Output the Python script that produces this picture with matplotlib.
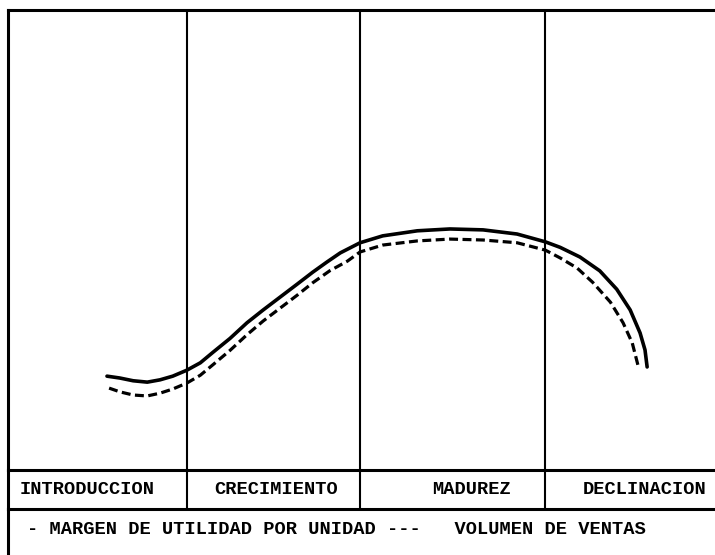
import matplotlib
matplotlib.use("Agg")
import matplotlib.pyplot as plt

# Etapas del ciclo de vida del producto
stage_names = ["INTRODUCCION", "CRECIMIENTO", "MADUREZ", "DECLINACION"]
stage_edges = [25.3, 49.8, 76.0]
stage_label_x = [1.7, 37.9, 65.5, 90.1]

# Margen de utilidad por unidad (linea continua)
margen_x = [14.0, 15.8, 17.7, 19.7, 21.5, 23.3, 25.3, 27.2, 29.0, 31.4, 33.8,
            36.1, 38.5, 40.9, 43.1, 45.1, 47.0, 48.4, 49.8, 53.0, 57.9, 62.5,
            67.2, 72.0, 76.0, 78.1, 80.9, 83.7, 86.1, 88.0, 89.4, 90.1, 90.4]
margen_y = [20.4, 20.0, 19.4, 19.1, 19.6, 20.4, 21.7, 23.3, 25.6, 28.6, 32.0,
            34.8, 37.6, 40.4, 43.0, 45.2, 47.2, 48.3, 49.4, 50.9, 52.0, 52.4,
            52.2, 51.3, 49.6, 48.4, 46.3, 43.3, 39.3, 34.8, 29.8, 26.1, 22.4]

# Volumen de ventas (linea punteada)
ventas_x = [14.3, 15.8, 17.7, 19.7, 21.5, 23.3, 25.3, 27.2, 29.0, 31.4, 33.8,
            36.1, 38.5, 40.9, 43.1, 45.5, 48.0, 49.8, 53.0, 57.9, 62.5, 67.2,
            72.0, 76.0, 78.1, 80.5, 82.7, 85.2, 87.0, 88.3, 89.1]
ventas_y = [17.8, 17.0, 16.3, 16.1, 16.7, 17.6, 18.9, 20.6, 22.9, 26.0, 29.4,
            32.4, 35.2, 38.0, 40.7, 43.3, 45.4, 47.4, 48.9, 49.8, 50.2, 50.0,
            49.4, 47.8, 46.1, 43.9, 40.8, 36.5, 32.0, 27.6, 22.8]

legend_text = "- MARGEN DE UTILIDAD POR UNIDAD ---   VOLUMEN DE VENTAS"

W, H = 715, 555
fig = plt.figure(figsize=(W / 100, H / 100), dpi=100)
font = dict(family="Liberation Mono", weight="bold", size=13.5)

# Area principal de la grafica
ax = fig.add_axes([8 / W, 85 / H, 707 / W, 460 / H])
ax.set_xlim(0, 100)
ax.set_ylim(0, 100)
ax.set_xticks([])
ax.set_yticks([])
ax.patch.set_alpha(0)
ax.spines["right"].set_visible(False)
for s in ["top", "left", "bottom"]:
    ax.spines[s].set_linewidth(2.2)
for e in stage_edges:
    ax.axvline(e, color="black", lw=1.5)

ax.plot(margen_x, margen_y, color="black", lw=2.6, solid_capstyle="round",
        solid_joinstyle="round")
ax.plot(ventas_x, ventas_y, color="black", lw=2.3, dashes=(2.8, 1.4),
        dash_capstyle="butt", dash_joinstyle="round")

# Fila de etiquetas de etapas
ax2 = fig.add_axes([8 / W, 46 / H, 707 / W, 39 / H])
ax2.set_xlim(0, 100)
ax2.set_ylim(0, 1)
ax2.set_xticks([])
ax2.set_yticks([])
ax2.patch.set_alpha(0)
ax2.spines["right"].set_visible(False)
ax2.spines["top"].set_visible(False)
ax2.spines["left"].set_linewidth(2.2)
ax2.spines["bottom"].set_linewidth(2.2)
for e in stage_edges:
    ax2.axvline(e, color="black", lw=1.5)
for i, name in enumerate(stage_names):
    if i == 0:
        ax2.text(stage_label_x[i], 0.5, name, ha="left", va="center", **font)
    else:
        ax2.text(stage_label_x[i], 0.5, name, ha="center", va="center", **font)

# Fila de leyenda
ax3 = fig.add_axes([8 / W, 0, 707 / W, 46 / H])
ax3.set_xlim(0, 100)
ax3.set_ylim(0, 1)
ax3.set_xticks([])
ax3.set_yticks([])
ax3.patch.set_alpha(0)
for s in ["top", "right", "bottom"]:
    ax3.spines[s].set_visible(False)
ax3.spines["left"].set_linewidth(2.2)
ax3.text(2.7, 0.55, legend_text, ha="left", va="center", **font)

fig.savefig("out.png", dpi=100)
